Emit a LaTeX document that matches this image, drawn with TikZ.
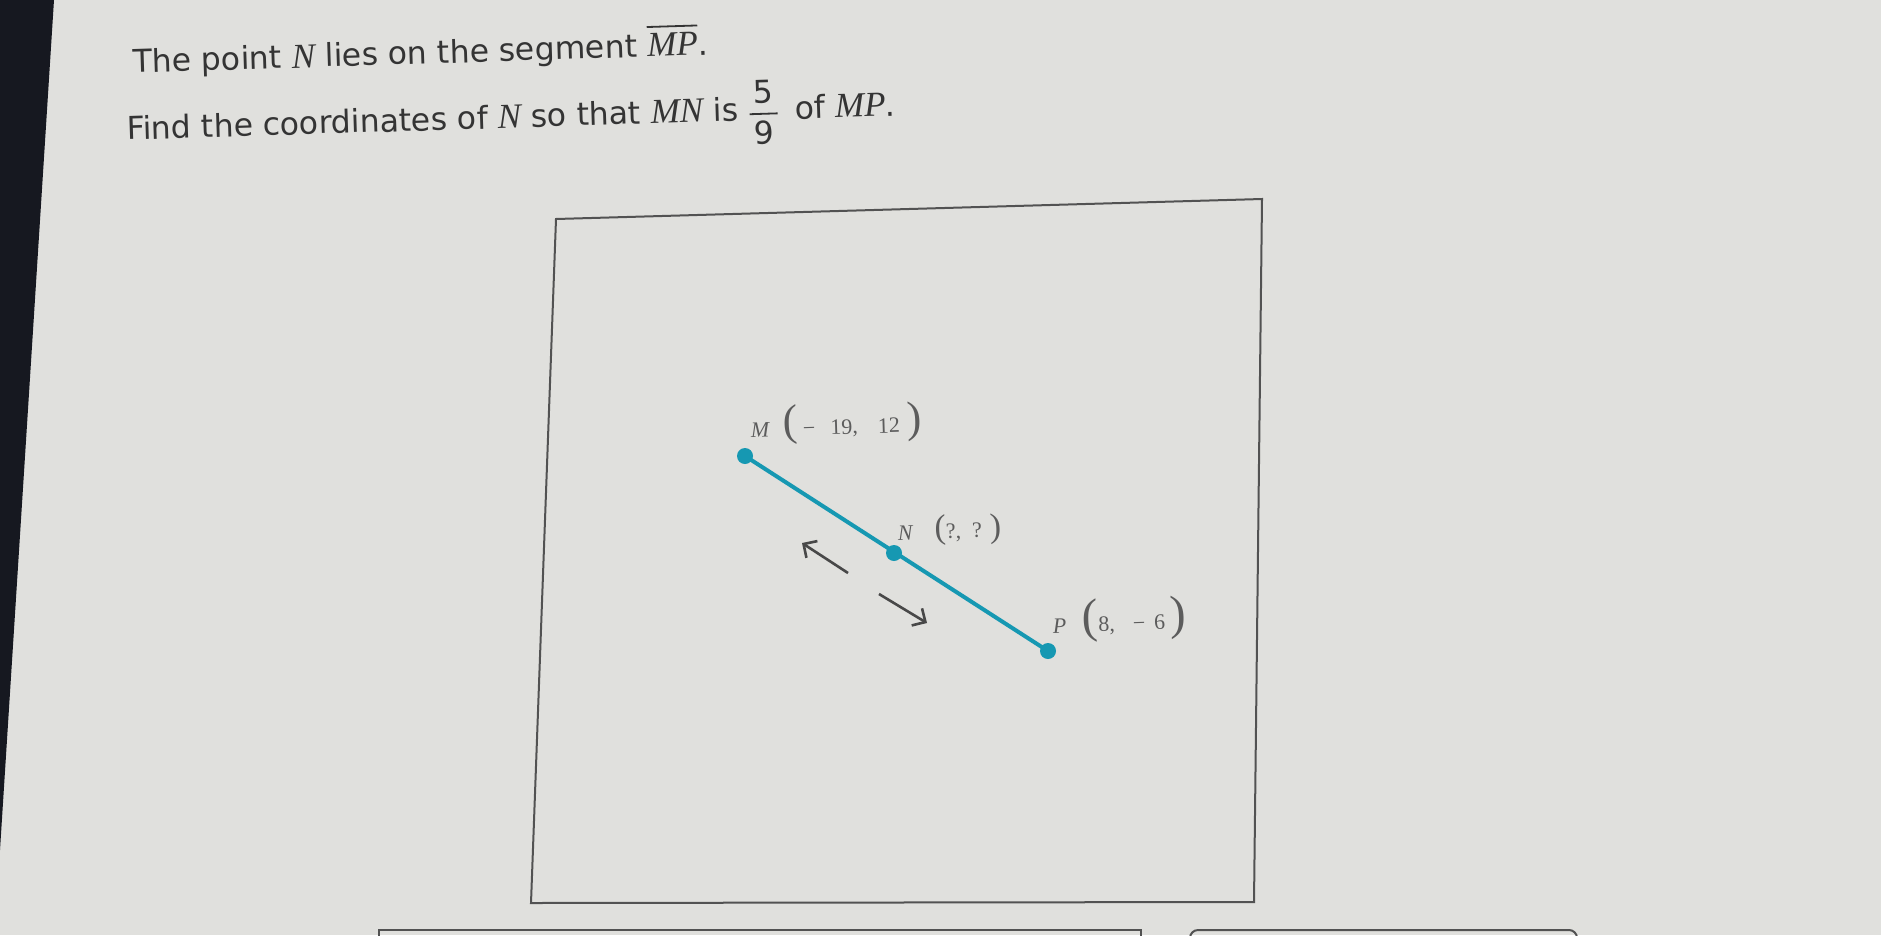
\documentclass[tikz,border=0pt]{standalone}
\usepackage{fontspec}
\setmainfont{DejaVu Sans}
\newfontfamily\tnr{Liberation Serif}
\usetikzlibrary{arrows.meta}
\definecolor{paper}{RGB}{224,224,221}
\definecolor{ink}{RGB}{52,52,52}
\definecolor{segcol}{RGB}{22,152,178}
\definecolor{lblcol}{RGB}{92,92,92}
\definecolor{edge}{RGB}{22,24,32}
\newcommand{\var}[1]{{\tnr\itshape\fontsize{35}{35}\selectfont #1}}
\newcommand{\pt}[1]{{\tnr\itshape #1}}
\newcommand{\paren}[2][44]{{\fontsize{#1}{#1}\selectfont #2}}
\newcommand{\barover}[1]{\vbox{\hrule height 1.8pt\kern 6pt\hbox{#1}}}
\tikzset{
  question/.style={anchor=base west,rotate=1.8,inner sep=0pt,text=ink,font=\fontsize{31.5}{36}\selectfont},
  coordlabel/.style={anchor=base west,rotate=1.8,inner sep=0pt,text=lblcol,font=\tnr\fontsize{22}{24}\selectfont},
  dir/.style={line width=2.6pt,draw=ink!90,-{Straight Barb[length=10pt,width=20pt]}}
}
\begin{document}
\begin{tikzpicture}[x=1pt,y=-1pt]
  \fill[paper] (0,0) rectangle (1881,935) ;
  \useasboundingbox (0,0) rectangle (1881,935) ;
  \clip (0,0) rectangle (1881,935) ;
  \fill[edge] (0,0) -- (54,0) -- (0,850) -- cycle ;
  \node[question] (q1) at (133,73) {The point \var{N} lies on the segment \barover{\var{MP}}.} ;
  \node[question] (q2) at (127,140) {Find the coordinates of \var{N} so that \var{MN} is\hspace{10pt}$\displaystyle{\hspace{4pt}\mbox{5}\rule[-4pt]{0pt}{4pt}\hspace{4pt}\above 1.8pt\rule{0pt}{24pt}\mbox{9}}$\hspace{16pt}of \var{MP}.} ;
  \draw[line width=2pt,ink!85] (556,219) -- (1262,199) -- (1254,902) -- (531,903) -- cycle ;
  \draw[line width=2pt,ink!85] (379,960) |- (1141,930) -- (1141,960) ;
  \draw[line width=2pt,ink!85,rounded corners=8pt] (1190,960) |- (1577,930) -- (1577,960) ;
  \coordinate (M) at (745,456) ;
  \coordinate (N) at (894,553) ;
  \coordinate (P) at (1048,651) ;
  \draw[line width=4pt,segcol] (M) -- (P) ;
  \foreach \point in {M,N,P}
    \fill[segcol] (\point) circle (8) ;
  \node[coordlabel] (Mlbl) at (751,437) {\pt{M}\hspace{14pt}\paren{(}\hspace{5pt}−\hspace{15pt}19,\hspace{20pt}12\hspace{7pt}\paren{)}} ;
  \node[coordlabel] (Nlbl) at (898,540) {\pt{N}\hspace{22pt}\paren[34]{(}?,\hspace{11pt}?\hspace{8pt}\paren[34]{)}} ;
  \node[coordlabel] (Plbl) at (1053,633) {\pt{P}\hspace{16pt}\paren[48]{(}8,\hspace{18pt}−\hspace{9pt}6\hspace{5pt}\paren[48]{)}} ;
  \coordinate (a1s) at (848,573) ;
  \coordinate (a1e) at (802,543) ;
  \coordinate (a2s) at (879,594) ;
  \coordinate (a2e) at (927,623) ;
  \draw[dir] (a1s) -- (a1e) ;
  \draw[dir] (a2s) -- (a2e) ;
\end{tikzpicture}
\end{document}
